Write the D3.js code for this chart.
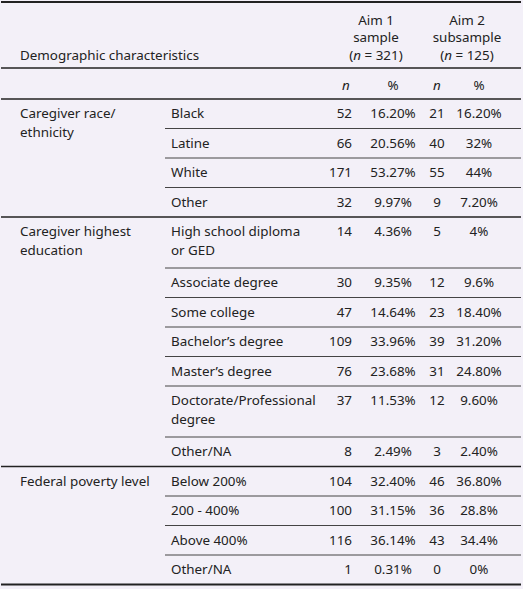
<!DOCTYPE html>
<html><head><meta charset="utf-8">
<script src="https://cdn.jsdelivr.net/npm/d3@7"></script>
<style>body{margin:0;background:#f3f0f8}svg{display:block}text{font-family:"Noto Sans",sans-serif;font-size:13.4px;fill:#222}</style>
</head><body>
<script>
const groups = ["Caregiver race/\nethnicity","Caregiver highest\neducation","Federal poverty level"];
const categories = [
 ["Black","Latine","White","Other"],
 ["High school diploma\nor GED","Associate degree","Some college","Bachelor\u2019s degree","Master\u2019s degree","Doctorate/Professional\ndegree","Other/NA"],
 ["Below 200%","200 - 400%","Above 400%","Other/NA"]
];
const aim1N = [[52,66,171,32],[14,30,47,109,76,37,8],[104,100,116,1]];
const aim1Pct = [["16.20%","20.56%","53.27%","9.97%"],["4.36%","9.35%","14.64%","33.96%","23.68%","11.53%","2.49%"],["32.40%","31.15%","36.14%","0.31%"]];
const aim2N = [[21,40,55,9],[5,12,23,39,31,12,3],[46,36,43,0]];
const aim2Pct = [["16.20%","32%","44%","7.20%"],["4%","9.6%","18.40%","31.20%","24.80%","9.60%","2.40%"],["36.80%","28.8%","34.4%","0%"]];

const W=523,H=589;
const svg=d3.select("body").append("svg").attr("width",W).attr("height",H);
const x={c1:20,c2:171,n1:352,p1:393,n2:437,p2:479,sub:165,l:1,r:521};
svg.append("line").attr("x1",x.l).attr("x2",x.r).attr("y1",2).attr("y2",2).attr("stroke","#222").attr("stroke-width",2);
svg.append("text").attr("x",x.c1).attr("y",60).text("Demographic characteristics");
[["Aim 1","sample","321",376],["Aim 2","subsample","125",467]].forEach(h=>{
  const t=svg.append("g").attr("text-anchor","middle");
  t.append("text").attr("x",h[3]).attr("y",25).text(h[0]);
  t.append("text").attr("x",h[3]).attr("y",42).text(h[1]);
  const tt=t.append("text").attr("x",h[3]).attr("y",60);
  tt.append("tspan").text("(");tt.append("tspan").attr("font-style","italic").text("n");tt.append("tspan").text(" = "+h[2]+")");
});
svg.append("line").attr("x1",x.l).attr("x2",x.r).attr("y1",68).attr("y2",68).attr("stroke","#222").attr("stroke-width",1.3);
const s=svg.append("g").attr("text-anchor","middle");
s.append("text").attr("x",x.n1-6).attr("y",90).attr("font-style","italic").text("n");
s.append("text").attr("x",x.p1).attr("y",90).text("%");
s.append("text").attr("x",x.n2).attr("y",90).attr("font-style","italic").text("n");
s.append("text").attr("x",x.p2).attr("y",90).text("%");
svg.append("line").attr("x1",x.l).attr("x2",x.r).attr("y1",99).attr("y2",99).attr("stroke","#222").attr("stroke-width",1.3);

let y=99;
groups.forEach((g,gi)=>{
  const gy=y;
  g.split("\n").forEach((ln,k)=>svg.append("text").attr("x",x.c1).attr("y",gy+19+k*19).text(ln));
  categories[gi].forEach((c,ci)=>{
    const lines=c.split("\n");
    const h=lines.length>1?51:29.5;
    lines.forEach((ln,k)=>svg.append("text").attr("x",x.c2).attr("y",y+19+k*19).text(ln));
    svg.append("text").attr("x",x.n1).attr("y",y+19).attr("text-anchor","end").text(aim1N[gi][ci]);
    svg.append("text").attr("x",x.p1).attr("y",y+19).attr("text-anchor","middle").text(aim1Pct[gi][ci]);
    svg.append("text").attr("x",x.n2).attr("y",y+19).attr("text-anchor","middle").text(aim2N[gi][ci]);
    svg.append("text").attr("x",x.p2).attr("y",y+19).attr("text-anchor","middle").text(aim2Pct[gi][ci]);
    y+=h;
    const last=ci===categories[gi].length-1;
    const lastAll=last&&gi===groups.length-1;
    svg.append("line").attr("x1",last?x.l:x.sub).attr("x2",x.r).attr("y1",y).attr("y2",y)
      .attr("stroke",last?"#222":"#444").attr("stroke-width",lastAll?2:(last?1.3:1));
  });
});
</script>
</body></html>
